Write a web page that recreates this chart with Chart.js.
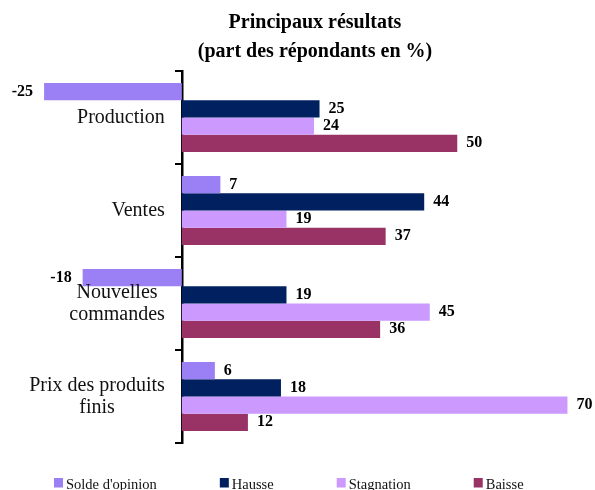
<!DOCTYPE html>
<html>
  <head>
    <meta charset="utf-8">
    <title>Principaux résultats</title>
    <style>
      body {
        margin: 0;
        background: #fff;
      }
      .wrap {
        width: 595px;
        height: 490px;
      }
    </style>
  </head>
  <body>
    <div class="wrap">
      <canvas id="resultats" width="595" height="490"></canvas>
    </div>

    <script src="https://cdn.jsdelivr.net/npm/chart.js"></script>
    <script>
      // data
      const categories = ['Production', 'Ventes', ['Nouvelles', 'commandes'], ['Prix des produits', 'finis']];
      const soldeOpinion = [-25, 7, -18, 6];
      const hausse = [25, 44, 19, 18];
      const stagnation = [24, 19, 45, 70];
      const baisse = [50, 37, 36, 12];
      const seriesNames = ["Solde d'opinion", 'Hausse', 'Stagnation', 'Baisse'];
      const seriesColors = ['#9B80F5', '#00205F', '#CC99FF', '#993366'];
      const titleLines = ['Principaux résultats', '(part des répondants en %)'];

      const serif = '"Liberation Serif", "DejaVu Serif", serif';
      Chart.defaults.font.family = serif;
      Chart.defaults.color = '#000';

      // value labels, category labels and legend drawn on the canvas
      const extras = {
        id: 'extras',
        afterLayout(chart) {
          // title sits a bit right of the centre in the original
          chart.titleBlock.left += 35;
        },
        afterDatasetsDraw(chart) {
          const ctx = chart.ctx;
          ctx.save();
          ctx.font = 'bold 16px ' + serif;
          ctx.fillStyle = '#000';
          ctx.textBaseline = 'middle';
          chart.data.datasets.forEach((ds, i) => {
            const meta = chart.getDatasetMeta(i);
            meta.data.forEach((bar, j) => {
              const v = ds.data[j];
              if (v < 0) {
                ctx.textAlign = 'right';
                ctx.fillText(String(v), bar.x - 11, bar.y);
              } else {
                ctx.textAlign = 'left';
                ctx.fillText(String(v), bar.x + 9, bar.y);
              }
            });
          });
          ctx.restore();
        },
        afterDraw(chart) {
          const ctx = chart.ctx;
          const yScale = chart.scales.y;
          const right = chart.scales.x.getPixelForValue(0) - 17;
          ctx.save();
          ctx.font = '20px ' + serif;
          ctx.fillStyle = '#111';
          ctx.textBaseline = 'middle';
          ctx.textAlign = 'center';
          chart.data.labels.forEach((lab, i) => {
            const lines = Array.isArray(lab) ? lab : [lab];
            const w = Math.max(...lines.map(l => ctx.measureText(l).width));
            const cx = right - w / 2;
            const cy = yScale.getPixelForTick(i);
            const lh = 22.5;
            lines.forEach((l, k) => {
              ctx.fillText(l, cx, cy + (k - (lines.length - 1) / 2) * lh);
            });
          });

          // legend
          ctx.font = '14.5px ' + serif;
          ctx.textAlign = 'left';
          ctx.textBaseline = 'alphabetic';
          let x = 54;
          chart.data.datasets.forEach(ds => {
            ctx.fillStyle = ds.backgroundColor;
            ctx.fillRect(x, 478, 9, 9.5);
            ctx.fillStyle = '#111';
            ctx.fillText(ds.label, x + 12, 488.5);
            x += 12 + ctx.measureText(ds.label).width + 63;
          });
          ctx.restore();
        }
      };

      const values = [soldeOpinion, hausse, stagnation, baisse];

      new Chart(document.getElementById('resultats'), {
        type: 'bar',
        data: {
          labels: categories,
          datasets: values.map((d, i) => ({
            label: seriesNames[i],
            data: d,
            backgroundColor: seriesColors[i],
            borderWidth: 0,
            categoryPercentage: 0.74,
            barPercentage: 1.0
          }))
        },
        options: {
          indexAxis: 'y',
          responsive: false,
          animation: false,
          layout: {
            padding: { top: 0, bottom: 47, left: 0, right: 0 }
          },
          scales: {
            x: {
              display: false,
              min: -33,
              max: 75
            },
            y: {
              position: { x: 0 },
              ticks: { display: false },
              grid: {
                drawOnChartArea: false,
                color: '#000',
                lineWidth: 2,
                tickLength: 6,
                offset: true
              },
              border: { color: '#000', width: 2.5 }
            }
          },
          plugins: {
            legend: { display: false },
            tooltip: { enabled: false },
            title: {
              display: true,
              text: titleLines,
              color: '#000',
              font: { size: 20, weight: 'bold', family: serif, lineHeight: 1.45 },
              padding: { top: 8.5, bottom: 4.5 }
            }
          }
        },
        plugins: [extras]
      });
    </script>
  </body>
</html>
